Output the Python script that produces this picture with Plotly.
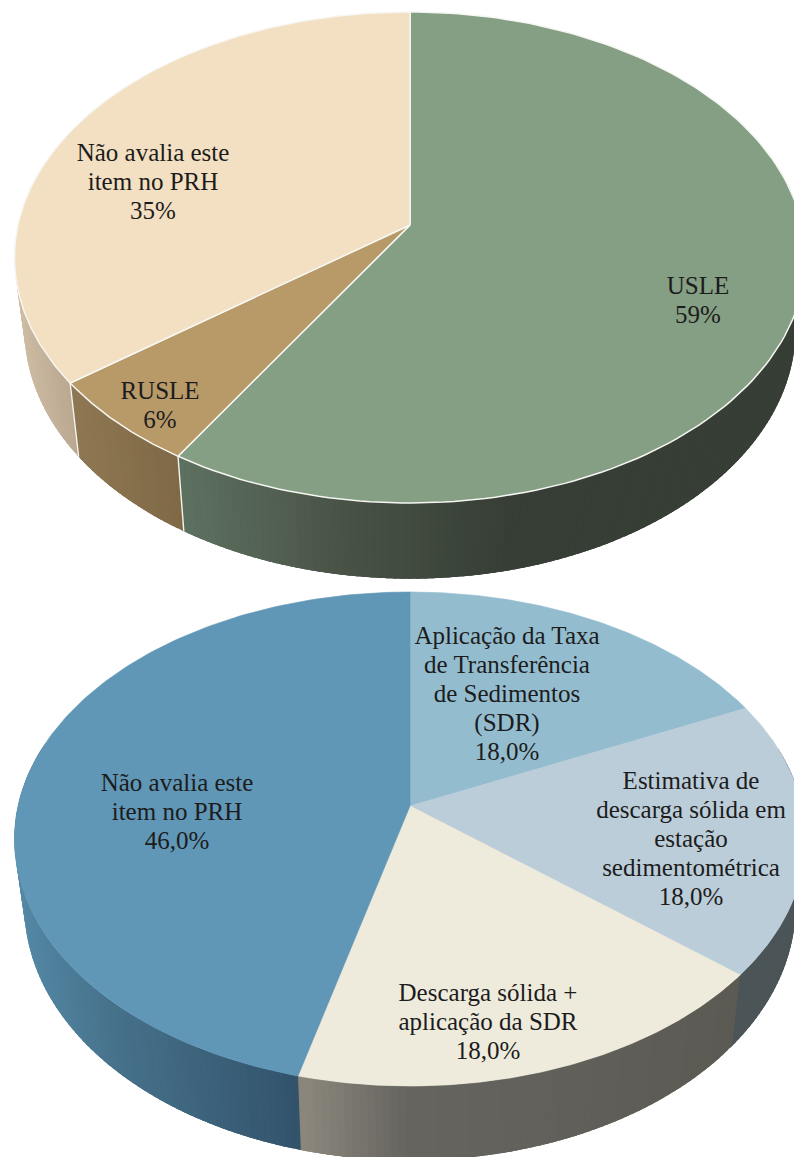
import numpy as np
import plotly.graph_objects as go

# ---- data -------------------------------------------------------------
top_categories = ["USLE", "RUSLE", "Não avalia este<br>item no PRH"]
top_values = [58.8, 5.9, 35.3]
bottom_categories = [
    "Aplicação da Taxa<br>de Transferência<br>de Sedimentos<br>(SDR)",
    "Estimativa de<br>descarga sólida em<br>estação<br>sedimentométrica",
    "Descarga sólida +<br>aplicação da SDR",
    "Não avalia este<br>item no PRH",
]
bottom_values = [18.0, 18.0, 18.0, 46.0]

# ---- style ------------------------------------------------------------
top_colors = ["#859f84", "#b89a69", "#f3dfc1"]
bottom_colors = ["#94bccf", "#bbcdd9", "#eeebdc", "#6096b6"]
top_side = [
    [(176, "#5e7261"), (330, "#4a5447"), (500, "#373f36"), (800, "#363e35")],
    [(77, "#8e7752"), (182, "#7f6946")],
    [(18, "#cfbda5"), (77, "#b8a68f")],
]
bottom_side = [
    [(0, "#4b5457"), (800, "#4b5457")],
    [(0, "#4b5457"), (800, "#4b5457")],
    [(300, "#8b877d"), (400, "#676560"), (740, "#5b5a53")],
    [(20, "#5489a6"), (110, "#47728c"), (300, "#32526a")],
]
top_geom = dict(cx=410, cy=225, R=392, V=241.2, p=0.1323, xs=0.975, ya=1.017, yb=71)
bot_geom = dict(cx=410, cy=806, R=392, V=242.6, p=0.1336, xs=0.975, ya=1.03, yb=66)
top_label_pos = [(698, 288), (160, 393), (153, 155)]
bottom_label_pos = [(507, 638), (691, 783), (488, 995), (177, 785)]
LINE_H = 29
FONT = dict(family="Liberation Serif", size=25, color="#1c1c1c")


def upper(theta, g):
    t = np.radians(theta)
    w = 1 + g["p"] * np.cos(t)
    return g["cx"] + g["R"] * np.sin(t) / w, g["cy"] - g["V"] * np.cos(t) / w


def lower(theta, g):
    x, y = upper(theta, g)
    return g["cx"] + g["xs"] * (x - g["cx"]), g["cy"] + g["yb"] + g["ya"] * (y - g["cy"])


def grad(x, stops):
    xs = [s[0] for s in stops]
    cols = [[int(s[1][i:i + 2], 16) for i in (1, 3, 5)] for s in stops]
    rgb = [int(np.interp(x, xs, [c[k] for c in cols])) for k in range(3)]
    return f"rgb({rgb[0]},{rgb[1]},{rgb[2]})"


def poly(fig, xs, ys, fill, line=None, width=0.0):
    fig.add_trace(go.Scatter(
        x=list(xs), y=list(ys), mode="lines", fill="toself", fillcolor=fill,
        line=dict(color=line or fill, width=width), hoverinfo="skip", showlegend=False))


def draw_pie(fig, values, cats, colors, side, g, label_pos, fmt, seams):
    edges = np.concatenate([[0], np.cumsum(values)]) / sum(values) * 360
    # side wall: strips painted in order, each overlapping the next
    for i in range(len(values)):
        a0, a1 = edges[i], edges[i + 1]
        n = max(2, int(np.ceil((a1 - a0) / 1.0)))
        ths = np.linspace(a0, a1, n + 1)
        for t0, t1 in zip(ths[:-1], ths[1:]):
            if np.cos(np.radians((t0 + t1) / 2)) > 0.25:
                continue
            t2 = min(t1 + 1.5, a1 + 0.4)
            mid = np.linspace(t0, t2, 4)
            ux, uy = upper(mid, g)
            lx, ly = lower(mid, g)
            c = grad((ux.mean() + lx.mean()) / 2, side[i])
            poly(fig, np.concatenate([ux, lx[::-1], ux[:1]]),
                 np.concatenate([uy, ly[::-1], uy[:1]]), c)
    # seams between slices on the wall
    if seams:
        for e in edges[1:-1]:
            if np.cos(np.radians(e)) < 0:
                ux, uy = upper(e, g)
                lx, ly = lower(e, g)
                fig.add_trace(go.Scatter(x=[ux, lx], y=[uy, ly], mode="lines",
                                         line=dict(color="#f4f4f0", width=1.4),
                                         hoverinfo="skip", showlegend=False))
    # top faces
    for i in range(len(values)):
        ths = np.linspace(edges[i], edges[i + 1], 160)
        x, y = upper(ths, g)
        xs = np.concatenate([[g["cx"]], x, [g["cx"]]])
        ys = np.concatenate([[g["cy"]], y, [g["cy"]]])
        if seams:
            poly(fig, xs, ys, colors[i], "#f6f6f2", 1.5)
        else:
            poly(fig, xs, ys, colors[i], colors[i], 0.6)
    # labels: one text point per line so the leading is exact
    for cat, val, (lx, ly) in zip(cats, values, label_pos):
        lines = cat.split("<br>") + [fmt(val)]
        fig.add_trace(go.Scatter(
            x=[lx] * len(lines), y=[ly + k * LINE_H for k in range(len(lines))],
            mode="text", text=lines, textposition="middle center",
            textfont=FONT, hoverinfo="skip", showlegend=False))


fig = go.Figure()
draw_pie(fig, top_values, top_categories, top_colors, top_side, top_geom,
         top_label_pos, lambda v: f"{v:.0f}%", True)
draw_pie(fig, bottom_values, bottom_categories, bottom_colors, bottom_side, bot_geom,
         bottom_label_pos, lambda v: f"{v:.1f}%".replace(".", ","), False)

fig.update_layout(
    width=794, height=1157, margin=dict(l=0, r=0, t=0, b=0),
    paper_bgcolor="white", plot_bgcolor="white", showlegend=False,
    xaxis=dict(range=[0, 794], visible=False, fixedrange=True),
    yaxis=dict(range=[1157, 0], visible=False, fixedrange=True),
)
fig.write_html("out.html", config=dict(displayModeBar=False),
               post_script="document.body.style.margin='0';document.body.style.overflow='hidden';")
